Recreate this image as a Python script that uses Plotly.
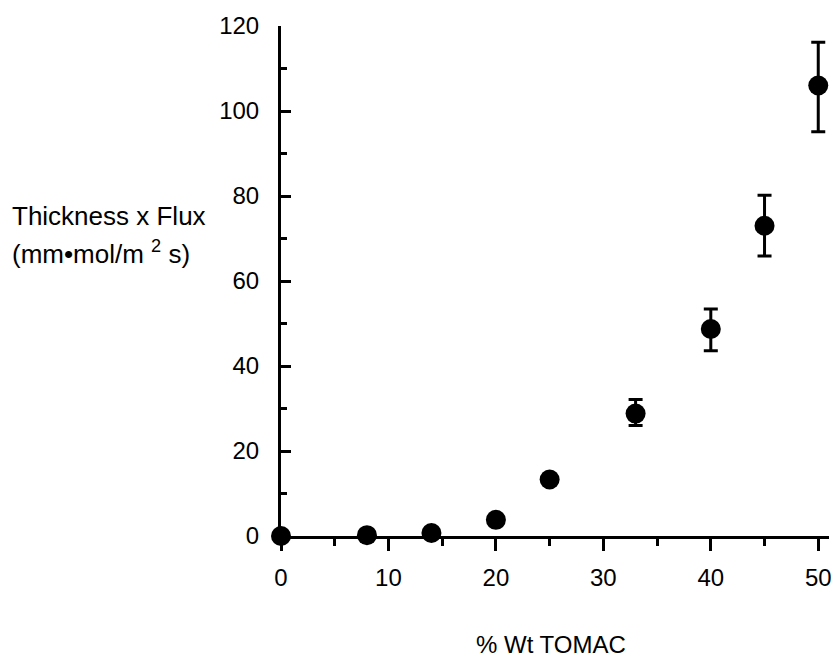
import plotly.graph_objects as go

wt_tomac = [0, 8, 14, 20, 25, 33, 40, 45, 50]
thick_flux = [0.0, 0.2, 0.7, 3.8, 13.3, 28.8, 48.7, 73.0, 106.0]
err_plus = [0, 0, 0, 0, 0, 3.3, 4.7, 7.2, 10.2]
err_minus = [0, 0, 0, 0, 0, 2.8, 5.1, 7.1, 10.9]

x_ticks = [0, 10, 20, 30, 40, 50]
x_minor = [5, 15, 25, 35, 45]
y_ticks = [0, 20, 40, 60, 80, 100, 120]
y_minor = [10, 30, 50, 70, 90, 110]

FONT = "Liberation Sans, Arial, Helvetica, sans-serif"

L, R, T, B = 281, 5, 26, 123
PW = 834 - L - R
PH = 659 - T - B

def px_to_paper_x(px):
    return (px - L) / PW

def px_to_paper_y(py):
    return (659 - B - py) / PH

fig = go.Figure()
fig.add_trace(go.Scatter(
    x=wt_tomac, y=thick_flux, mode="markers",
    marker=dict(size=20, color="black"),
    error_y=dict(type="data", symmetric=False, array=err_plus, arrayminus=err_minus,
                 color="black", thickness=3, width=7),
    cliponaxis=False, showlegend=False,
))

fig.update_layout(
    width=834, height=659,
    margin=dict(l=L, r=R, t=T, b=B),
    paper_bgcolor="white", plot_bgcolor="white",
    font=dict(family=FONT, size=24, color="black"),
    xaxis=dict(range=[0, 51], tickvals=x_ticks, ticks="outside", ticklen=12, tickwidth=3,
               tickcolor="black", showline=True, linecolor="black", linewidth=3,
               showgrid=False, zeroline=False, automargin=False, ticklabelstandoff=6,
               tickfont=dict(size=24),
               minor=dict(tickvals=x_minor, ticks="outside", ticklen=7,
                          tickwidth=3, tickcolor="black")),
    yaxis=dict(range=[0, 120], tickvals=y_ticks, ticks="inside", ticklen=10, tickwidth=3,
               tickcolor="black", showline=True, linecolor="black", linewidth=3,
               showgrid=False, zeroline=False, automargin=False, ticklabelstandoff=14,
               tickfont=dict(size=24),
               minor=dict(tickvals=y_minor, ticks="inside", ticklen=6,
                          tickwidth=3, tickcolor="black")),
)

fig.add_annotation(xref="paper", yref="paper", x=px_to_paper_x(551), y=px_to_paper_y(644),
                   xanchor="center", yanchor="middle", showarrow=False,
                   text="% Wt TOMAC", font=dict(family=FONT, size=24, color="black"))

fig.add_annotation(xref="paper", yref="paper", x=px_to_paper_x(10), y=px_to_paper_y(216),
                   xanchor="left", yanchor="middle", showarrow=False,
                   text="Thickness x Flux", font=dict(family=FONT, size=26, color="black"))
fig.add_annotation(xref="paper", yref="paper", x=px_to_paper_x(10), y=px_to_paper_y(252),
                   xanchor="left", yanchor="middle", showarrow=False,
                   text="(mm•mol/m <sup>2</sup> s)", font=dict(family=FONT, size=26, color="black"))

fig.write_html("out.html", config={"displayModeBar": False},
               post_script="document.body.style.margin='0';document.body.style.overflow='hidden';")
